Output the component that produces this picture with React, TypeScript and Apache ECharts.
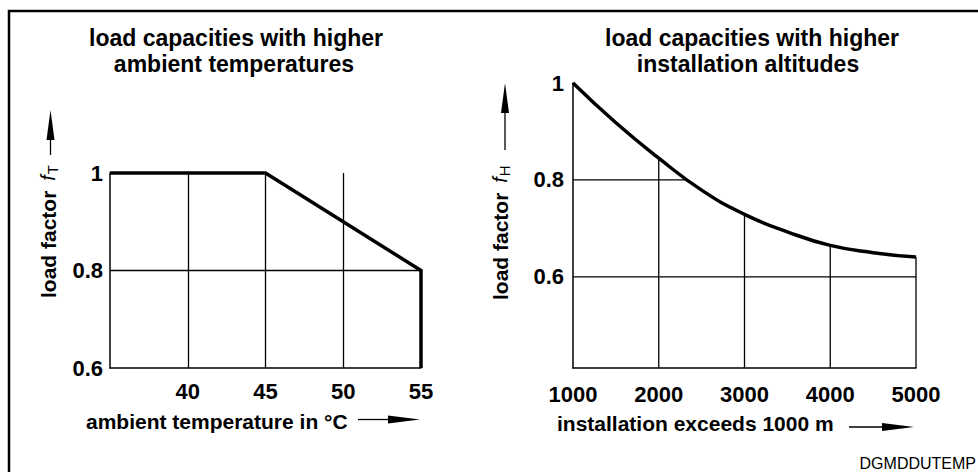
import React, { useEffect, useRef } from 'react';
import * as echarts from 'echarts';

const FONT = '"Liberation Sans", Arial, Helvetica, sans-serif';

// ---- data: left chart (ambient temperature) ----
const tempX = [35, 45, 55, 55];
const tempY = [1, 1, 0.8, 0.6];

// ---- data: right chart (installation altitude) ----
const altX = [1000, 1500, 2000, 2500, 3000, 3500, 4000, 4500, 5000];
const altY = [1.0, 0.918, 0.845, 0.779, 0.729, 0.693, 0.665, 0.65, 0.641];
const altGridX = [2000, 3000, 4000, 5000];
const altGridY = [0.8, 0.6];
const factorTicks = [0.6, 0.8, 1];

const ALT_YMIN = 0.412;

function curveAt(x: number): number {
  for (let i = 0; i < altX.length - 1; i++) {
    if (x >= altX[i] && x <= altX[i + 1]) {
      const t = (x - altX[i]) / (altX[i + 1] - altX[i]);
      return altY[i] + t * (altY[i + 1] - altY[i]);
    }
  }
  return altY[altY.length - 1];
}
function crossingX(y: number): number {
  for (let i = 0; i < altY.length - 1; i++) {
    if (y <= altY[i] && y >= altY[i + 1]) {
      const t = (altY[i] - y) / (altY[i] - altY[i + 1]);
      return altX[i] + t * (altX[i + 1] - altX[i]);
    }
  }
  return altX[altX.length - 1];
}

const BLACK = '#000';
const GRIDW = 1.3;

function buildOption() {
  const labelStyle = { color: BLACK, fontFamily: FONT, fontWeight: 'bold' as const, fontSize: 22 };

  const rightSegments: any[] = [];
  altGridX.forEach((gx) => {
    rightSegments.push({
      type: 'line', xAxisIndex: 1, yAxisIndex: 1, symbol: 'none', silent: true, clip: false, z: 1,
      lineStyle: { color: BLACK, width: GRIDW },
      data: [[gx, ALT_YMIN], [gx, curveAt(gx)]],
    });
  });
  altGridY.forEach((gy) => {
    rightSegments.push({
      type: 'line', xAxisIndex: 1, yAxisIndex: 1, symbol: 'none', silent: true, clip: false, z: 1,
      lineStyle: { color: BLACK, width: GRIDW },
      data: [[altX[0], gy], [crossingX(gy), gy]],
    });
  });

  const arrowV = (cx: number, tip: number, base: number, end: number) => [
    { type: 'line', shape: { x1: cx, y1: base - 2, x2: cx, y2: end }, style: { stroke: BLACK, lineWidth: 1.3 } },
    { type: 'polygon', shape: { points: [[cx, tip], [cx - 4, base], [cx + 4, base]] }, style: { fill: BLACK } },
  ];
  const arrowH = (cy: number, start: number, base: number, tip: number) => [
    { type: 'line', shape: { x1: start, y1: cy, x2: base + 2, y2: cy }, style: { stroke: BLACK, lineWidth: 1.3 } },
    { type: 'polygon', shape: { points: [[tip, cy], [base, cy - 4], [base, cy + 4]] }, style: { fill: BLACK } },
  ];

  const richName = (sub: string) => ({
    text: `{b|load factor }{f|f}{s|${sub}}`,
    rich: {
      b: { fontFamily: FONT, fontWeight: 'bold', fontSize: 21, fill: BLACK },
      f: { fontFamily: FONT, fontStyle: 'italic', fontWeight: 'normal', fontSize: 20, fill: BLACK, padding: [0, 1, 0, 4] },
      s: { fontFamily: FONT, fontWeight: 'normal', fontSize: 15, fill: BLACK, padding: [8, 0, 0, 0] },
    },
    align: 'left',
    verticalAlign: 'middle',
  });

  const titleText = (x: number, y: number, text: string) => ({
    type: 'text', x, y,
    style: { text, fill: BLACK, fontFamily: FONT, fontWeight: 'bold', fontSize: 23, align: 'center', verticalAlign: 'middle' },
  });

  return {
    animation: false,
    backgroundColor: '#fff',
    grid: [
      { left: 110, top: 173, width: 311, height: 195 },
      { left: 573, top: 83, width: 343, height: 285 },
    ],
    xAxis: [
      {
        type: 'value', gridIndex: 0, min: 35, max: 55, interval: 5,
        axisLine: { show: true, lineStyle: { color: BLACK, width: 1.5 } },
        axisTick: { show: false },
        axisLabel: { ...labelStyle, margin: 12, showMinLabel: false, formatter: (v: number) => String(v) },
        splitLine: { show: true, showMinLine: false, showMaxLine: false, lineStyle: { color: BLACK, width: GRIDW } },
      },
      {
        type: 'value', gridIndex: 1, min: 1000, max: 5000, interval: 1000,
        axisLine: { show: true, lineStyle: { color: BLACK, width: 1.5 } },
        axisTick: { show: false },
        axisLabel: { ...labelStyle, margin: 15, formatter: (v: number) => String(v) },
        splitLine: { show: false },
      },
    ],
    yAxis: [
      {
        type: 'value', gridIndex: 0, min: 0.6, max: 1, interval: 0.2,
        axisLine: { show: true, lineStyle: { color: BLACK, width: 1.5 } },
        axisTick: { show: false },
        axisLabel: { ...labelStyle, margin: 7 },
        splitLine: { show: true, showMinLine: false, showMaxLine: false, lineStyle: { color: BLACK, width: GRIDW } },
      },
      {
        type: 'value', gridIndex: 1, min: ALT_YMIN, max: 1,
        axisLine: { show: true, lineStyle: { color: BLACK, width: 1.5 } },
        axisTick: { show: false },
        axisLabel: { ...labelStyle, margin: 9, customValues: factorTicks },
        splitLine: { show: false },
      },
    ],
    series: [
      {
        type: 'line', xAxisIndex: 0, yAxisIndex: 0, symbol: 'none', clip: false, z: 3,
        lineStyle: { color: BLACK, width: 3.5, join: 'miter' },
        data: tempX.map((x, i) => [x, tempY[i]]),
      },
      ...rightSegments,
      {
        type: 'line', xAxisIndex: 1, yAxisIndex: 1, symbol: 'none', clip: false, z: 3,
        smooth: 0.5,
        lineStyle: { color: BLACK, width: 3.5 },
        data: altX.map((x, i) => [x, altY[i]]),
      },
    ],
    graphic: [
      { type: 'rect', shape: { x: 9, y: 11, width: 1100, height: 1000 }, style: { fill: 'none', stroke: BLACK, lineWidth: 2.5 }, z: 10 },
      titleText(236, 38, 'load capacities with higher'),
      titleText(234, 64, 'ambient temperatures'),
      titleText(752, 38, 'load capacities with higher'),
      titleText(748, 64, 'installation altitudes'),
      { type: 'text', x: 48, y: 298, rotation: Math.PI / 2, style: richName('T') },
      { type: 'text', x: 500, y: 300, rotation: Math.PI / 2, style: richName('H') },
      ...arrowV(50.5, 110, 140, 155),
      ...arrowV(505, 83, 113, 150),
      {
        type: 'text', x: 86, y: 421,
        style: { text: 'ambient temperature in °C', fill: BLACK, fontFamily: FONT, fontWeight: 'bold', fontSize: 21, align: 'left', verticalAlign: 'middle' },
      },
      {
        type: 'text', x: 557, y: 423,
        style: { text: 'installation exceeds 1000 m', fill: BLACK, fontFamily: FONT, fontWeight: 'bold', fontSize: 21, align: 'left', verticalAlign: 'middle' },
      },
      ...arrowH(419.5, 358, 388, 420),
      ...arrowH(427, 849, 882, 914),
      {
        type: 'text', x: 976, y: 463,
        style: { text: 'DGMDDUTEMP', fill: BLACK, fontFamily: FONT, fontWeight: 'normal', fontSize: 16, align: 'right', verticalAlign: 'middle' },
      },
    ],
  };
}

export default function App() {
  const ref = useRef<HTMLDivElement>(null);
  useEffect(() => {
    const chart = echarts.init(ref.current!, null, { renderer: 'svg' });
    chart.setOption(buildOption() as any);
    return () => chart.dispose();
  }, []);
  return (
    <div
      ref={ref}
      style={{ position: 'absolute', left: 0, top: 0, width: 978, height: 472, background: '#fff' }}
    />
  );
}
